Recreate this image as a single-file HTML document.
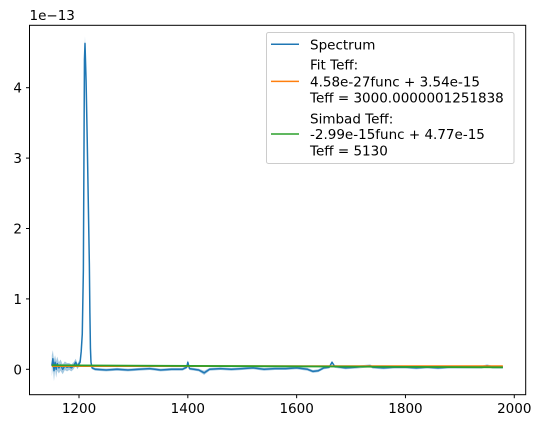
<!DOCTYPE html>
<html><head><meta charset="utf-8"><style>
body{margin:0;background:#fff;font-family:"Liberation Sans","DejaVu Sans",sans-serif;}
svg text{font-family:"DejaVu Sans","Liberation Sans",sans-serif;font-size:13.5px;fill:#000;}
</style></head><body>
<svg id="chart" width="541" height="428" viewBox="0 0 541 428" xmlns="http://www.w3.org/2000/svg">
<rect x="0" y="0" width="541" height="428" fill="#fff"/>
<g id="plot"></g>
<rect x="29.5" y="25.3" width="496.2" height="369.4" fill="none" stroke="#000" stroke-width="1"/>
<g id="ticks"></g>
<text x="29.5" y="20">1e−13</text>
<g>
<rect x="266.5" y="32.5" width="247.5" height="131" rx="2" fill="#fff" fill-opacity="0.8" stroke="#ccc"/>
<line x1="271" y1="44.3" x2="299" y2="44.3" stroke="#1f77b4" stroke-width="1.5"/>
<text x="310" y="49.3">Spectrum</text>
<line x1="271" y1="81.4" x2="299" y2="81.4" stroke="#ff7f0e" stroke-width="1.5"/>
<text x="310" y="69.7">Fit Teff:</text>
<text x="310" y="86.4">4.58e-27func + 3.54e-15</text>
<text x="310" y="102.4">Teff = 3000.0000001251838</text>
<line x1="271" y1="134" x2="299" y2="134" stroke="#2ca02c" stroke-width="1.5"/>
<text x="310" y="123.4">Simbad Teff:</text>
<text x="310" y="139">-2.99e-15func + 4.77e-15</text>
<text x="310" y="155.4">Teff = 5130</text>
</g>
</svg>
<script>
const wavelengths=[1150,1152,1154,1156,1158,1160,1163,1166,1170,1174,1178,1182,1186,1190,1194,1197,1200,1202,1204,1206,1208,1209,1210,1211,1213,1215,1217,1219,1220,1221,1222,1224,1230,1250,1270,1290,1310,1330,1350,1370,1390,1398,1400,1403,1420,1430,1440,1460,1480,1500,1520,1540,1560,1580,1600,1620,1630,1640,1650,1660,1665,1670,1690,1710,1735,1740,1760,1780,1800,1820,1840,1860,1880,1900,1920,1940,1950,1960,1979];
const flux=[0.05,0.15,-0.02,0.1,0.0,0.08,0.02,0.06,0.0,0.05,0.03,0.04,0.02,0.05,0.1,0.04,0.08,0.1,0.25,0.5,1.4,2.9,4.4,4.63,4.1,3.3,2.4,1.5,0.8,0.3,0.1,0.02,0.0,-0.01,0.0,-0.01,0.0,0.01,-0.01,0.0,0.0,0.03,0.1,0.01,-0.01,-0.05,0.0,0.01,0.0,0.01,0.02,0.0,0.01,0.01,0.02,0.0,-0.03,-0.02,0.02,0.03,0.1,0.04,0.02,0.03,0.05,0.03,0.02,0.03,0.03,0.02,0.03,0.02,0.03,0.03,0.03,0.03,0.05,0.03,0.03];
const fluxErr=[0.15,0.12,0.15,0.1,0.12,0.1,0.08,0.08,0.07,0.06,0.06,0.05,0.05,0.05,0.05,0.04,0.04,0.04,0.04,0.05,0.08,0.1,0.1,0.1,0.1,0.1,0.1,0.08,0.05,0.03,0.02,0.02,0.02,0.02,0.02,0.02,0.02,0.02,0.02,0.02,0.02,0.02,0.03,0.02,0.02,0.03,0.02,0.02,0.02,0.02,0.02,0.02,0.02,0.02,0.02,0.02,0.02,0.02,0.02,0.02,0.02,0.02,0.02,0.02,0.02,0.02,0.02,0.02,0.02,0.02,0.02,0.02,0.02,0.02,0.02,0.02,0.02,0.02,0.02];
const fitX=[1150,1979];
const fitY=[0.045,0.045];
const simbadX=[1150,1979];
const simbadY=[0.057,0.028];
const xTicks=[1200,1400,1600,1800,2000];
const yTicks=[0,1,2,3,4];

const NS="http://www.w3.org/2000/svg";
const X0=1109,X1=2021,L=29.5,R=525.7;
const sx=v=>L+(v-X0)/(X1-X0)*(R-L);
const sy=v=>369.3-v*70.4;
const plot=document.getElementById('plot');
const ticks=document.getElementById('ticks');
function mk(tag,attrs,parent){const e=document.createElementNS(NS,tag);for(const k in attrs)e.setAttribute(k,attrs[k]);parent.appendChild(e);return e;}

let up=wavelengths.map((w,i)=>sx(w)+','+sy(flux[i]+fluxErr[i]));
let dn=wavelengths.map((w,i)=>sx(w)+','+sy(flux[i]-fluxErr[i])).reverse();
const band=mk('polygon',{points:up.concat(dn).join(' '),fill:'#1f77b4','fill-opacity':'0.4'},plot);


const sp=mk('polyline',{points:wavelengths.map((w,i)=>sx(w)+','+sy(flux[i])).join(' '),fill:'none',stroke:'#1f77b4','stroke-width':'1.5','stroke-linejoin':'round'},plot);


const fit=mk('polyline',{points:fitX.map((w,i)=>sx(w)+','+sy(fitY[i])).join(' '),fill:'none',stroke:'#ff7f0e','stroke-width':'1.8'},plot);


const sim=mk('polyline',{points:simbadX.map((w,i)=>sx(w)+','+sy(simbadY[i])).join(' '),fill:'none',stroke:'#2ca02c','stroke-width':'1.8'},plot);



xTicks.forEach(t=>{const x=sx(t);
 const tk=mk('line',{x1:x,y1:394.7,x2:x,y2:398.2,stroke:'#000'},ticks);
 
 
 const tx=mk('text',{x:x,y:413,'text-anchor':'middle'},ticks);tx.textContent=t;
 
 
});
yTicks.forEach(t=>{const y=sy(t);
 const tk=mk('line',{x1:26,y1:y,x2:29.5,y2:y,stroke:'#000'},ticks);
 
 
 const tx=mk('text',{x:22,y:y+5,'text-anchor':'end'},ticks);tx.textContent=t;
 
 
});
</script>
</body></html>
